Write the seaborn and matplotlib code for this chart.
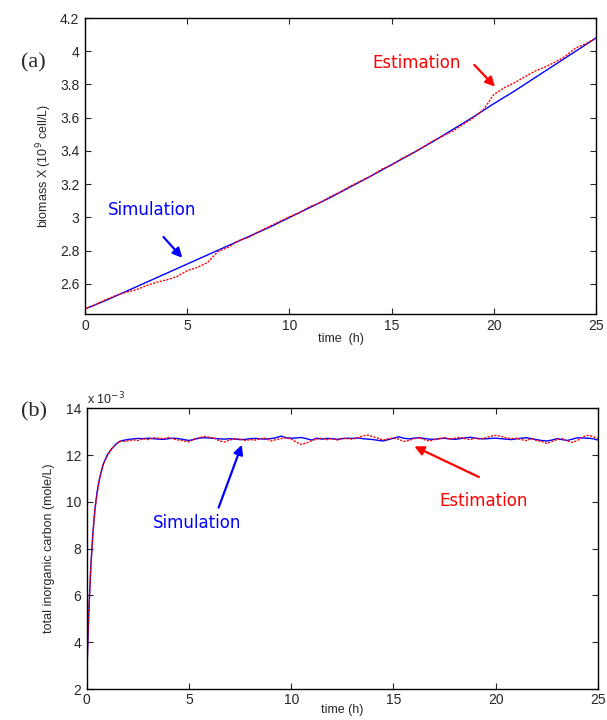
import matplotlib
matplotlib.use("Agg")
import matplotlib.pyplot as plt
import numpy as np
import pandas as pd
import seaborn as sns

# ---- panel (a): biomass X (10^9 cell/L) ----
sim_a_time = list(range(0, 26))
sim_a_biomass = [2.45, 2.50, 2.555, 2.61, 2.665, 2.72, 2.775, 2.83, 2.885, 2.94,
                 3.00, 3.06, 3.12, 3.185, 3.25, 3.318, 3.385, 3.455, 3.53, 3.605,
                 3.685, 3.76, 3.84, 3.92, 4.00, 4.08]

est_a_time = [i * 0.5 for i in range(51)]
est_a_biomass = [2.45, 2.475, 2.505, 2.53, 2.55, 2.565, 2.59, 2.61, 2.625, 2.645,
                 2.68, 2.70, 2.73, 2.795, 2.82, 2.86, 2.88, 2.915, 2.945, 2.975,
                 3.005, 3.03, 3.065, 3.09, 3.125, 3.155, 3.19, 3.22, 3.25, 3.29,
                 3.315, 3.355, 3.385, 3.42, 3.46, 3.49, 3.52, 3.56, 3.60, 3.65,
                 3.74, 3.78, 3.81, 3.845, 3.88, 3.905, 3.935, 3.97, 4.02, 4.045,
                 4.08]

# ---- panel (b): total inorganic carbon (x 10^-3 mole/L) ----
ramp_time = [0, 0.05, 0.1, 0.2, 0.3, 0.4, 0.5, 0.6, 0.8, 1.0, 1.2, 1.4, 1.6, 1.8]
sim_b_ramp = [2.5, 4.0, 5.3, 7.3, 8.7, 9.7, 10.4, 10.9, 11.6, 12.0, 12.25, 12.45, 12.58, 12.63]
est_b_ramp = [2.5, 4.1, 5.4, 7.3, 8.6, 9.7, 10.3, 10.9, 11.6, 11.95, 12.25, 12.42, 12.6, 12.58]

plateau_time = [2.0 + i * 0.25 for i in range(93)]
sim_b_plateau = [12.66, 12.69, 12.71, 12.70, 12.72, 12.70, 12.68, 12.67, 12.70, 12.72,
                 12.70, 12.66, 12.62, 12.67, 12.72, 12.74, 12.73, 12.71, 12.69, 12.68,
                 12.70, 12.68, 12.66, 12.67, 12.70, 12.71, 12.69, 12.68, 12.70, 12.74,
                 12.81, 12.74, 12.72, 12.73, 12.75, 12.70, 12.64, 12.72, 12.68, 12.71,
                 12.70, 12.67, 12.70, 12.72, 12.71, 12.73, 12.70, 12.68, 12.66, 12.63,
                 12.60, 12.66, 12.72, 12.78, 12.72, 12.69, 12.72, 12.74, 12.71, 12.68,
                 12.67, 12.70, 12.72, 12.69, 12.67, 12.70, 12.73, 12.76, 12.72, 12.70,
                 12.69, 12.71, 12.72, 12.70, 12.68, 12.66, 12.69, 12.72, 12.74, 12.70,
                 12.66, 12.62, 12.60, 12.64, 12.70, 12.66, 12.62, 12.68, 12.74, 12.73,
                 12.72, 12.70, 12.64]
est_b_plateau = [12.60, 12.65, 12.62, 12.70, 12.66, 12.74, 12.72, 12.70, 12.75, 12.68,
                 12.64, 12.60, 12.56, 12.68, 12.74, 12.80, 12.76, 12.72, 12.60, 12.56,
                 12.65, 12.70, 12.68, 12.62, 12.66, 12.64, 12.70, 12.72, 12.60, 12.66,
                 12.70, 12.74, 12.68, 12.55, 12.45, 12.52, 12.62, 12.68, 12.72, 12.66,
                 12.70, 12.64, 12.72, 12.70, 12.68, 12.74, 12.82, 12.85, 12.78, 12.72,
                 12.64, 12.70, 12.72, 12.68, 12.58, 12.62, 12.70, 12.74, 12.66, 12.60,
                 12.66, 12.70, 12.74, 12.68, 12.72, 12.76, 12.70, 12.66, 12.72, 12.68,
                 12.74, 12.80, 12.84, 12.80, 12.74, 12.70, 12.72, 12.66, 12.62, 12.70,
                 12.62, 12.58, 12.50, 12.58, 12.66, 12.70, 12.60, 12.54, 12.62, 12.78,
                 12.84, 12.80, 12.70]

x_ticks = [0, 5, 10, 15, 20, 25]
a_yticks = [2.6, 2.8, 3.0, 3.2, 3.4, 3.6, 3.8, 4.0, 4.2]
a_ylabels = ["2.6", "2.8", "3", "3.2", "3.4", "3.6", "3.8", "4", "4.2"]
b_yticks = [2, 4, 6, 8, 10, 12, 14]


def style_axes(ax):
    ax.tick_params(direction="in", length=4, width=0.8, top=True, right=True,
                   labelsize=10, pad=4)
    for s in ax.spines.values():
        s.set_linewidth(1.0)
        s.set_color("black")
    for lab in ax.get_xticklabels() + ax.get_yticklabels():
        lab.set_fontfamily("Liberation Sans")


sns.set_style("ticks")
plt.rcParams["font.family"] = ["Liberation Sans", "DejaVu Sans"]

fig = plt.figure(figsize=(6.07, 7.2), dpi=100)
ax_a = fig.add_axes([0.140, 0.564, 0.842, 0.411])
ax_b = fig.add_axes([0.143, 0.043, 0.842, 0.390])

df_sim_a = pd.DataFrame({"t": sim_a_time, "X": sim_a_biomass})
df_est_a = pd.DataFrame({"t": est_a_time, "X": est_a_biomass})
sns.lineplot(data=df_sim_a, x="t", y="X", ax=ax_a, color="#0000ff", lw=1.0)
sns.lineplot(data=df_est_a, x="t", y="X", ax=ax_a, color="#ff0000", lw=1.0,
             linestyle=(0, (1.5, 1)))
ax_a.set_xlim(0, 25)
ax_a.set_ylim(2.42, 4.2)
ax_a.set_xticks(x_ticks)
ax_a.set_yticks(a_yticks)
ax_a.set_yticklabels(a_ylabels)
ax_a.set_xlabel("time  (h)", fontsize=9, labelpad=0)
ax_a.set_ylabel("biomass X (10$^9$ cell/L)", fontsize=9, labelpad=4)
style_axes(ax_a)

ax_a.text(3.3, 3.045, "Simulation", color="#0000ff", fontsize=12,
          family="DejaVu Sans", ha="center", va="center")
ax_a.annotate("", xy=(4.85, 2.745), xytext=(3.75, 2.895),
              arrowprops=dict(arrowstyle="-|>", color="#0000ff", lw=1.6,
                              mutation_scale=14))
ax_a.text(16.2, 3.93, "Estimation", color="#ff0000", fontsize=12,
          family="DejaVu Sans", ha="center", va="center")
ax_a.annotate("", xy=(20.15, 3.775), xytext=(18.95, 3.93),
              arrowprops=dict(arrowstyle="-|>", color="#ff0000", lw=1.6,
                              mutation_scale=14))

df_sim_b = pd.DataFrame({"t": ramp_time + plateau_time, "C": sim_b_ramp + sim_b_plateau})
df_est_b = pd.DataFrame({"t": ramp_time + plateau_time, "C": est_b_ramp + est_b_plateau})
sns.lineplot(data=df_sim_b, x="t", y="C", ax=ax_b, color="#0000ff", lw=1.0)
sns.lineplot(data=df_est_b, x="t", y="C", ax=ax_b, color="#ff0000", lw=1.0,
             linestyle=(0, (1.5, 1)))
ax_b.set_xlim(0, 25)
ax_b.set_ylim(2, 14)
ax_b.set_xticks(x_ticks)
ax_b.set_yticks(b_yticks)
ax_b.set_xlabel("time (h)", fontsize=9, labelpad=-2)
ax_b.set_ylabel("total inorganic carbon (mole/L)", fontsize=9, labelpad=8)
style_axes(ax_b)
ax_b.tick_params(axis="x", pad=3)
ax_b.text(0.0, 1.005, "x 10$^{-3}$", transform=ax_b.transAxes, fontsize=9,
          ha="left", va="bottom")

ax_b.text(5.4, 9.09, "Simulation", color="#0000ff", fontsize=12,
          family="DejaVu Sans", ha="center", va="center")
ax_b.annotate("", xy=(7.63, 12.55), xytext=(6.4, 9.64),
              arrowprops=dict(arrowstyle="-|>", color="#0000ff", lw=1.6,
                              mutation_scale=14))
ax_b.text(19.4, 10.03, "Estimation", color="#ff0000", fontsize=12,
          family="DejaVu Sans", ha="center", va="center")
ax_b.annotate("", xy=(15.9, 12.42), xytext=(19.3, 11.01),
              arrowprops=dict(arrowstyle="-|>", color="#ff0000", lw=1.6,
                              mutation_scale=14))

fig.text(0.035, 0.913, "(a)", fontsize=16, family="Liberation Serif", va="center")
fig.text(0.035, 0.428, "(b)", fontsize=16, family="Liberation Serif", va="center")

fig.savefig("out.png", dpi=100)
